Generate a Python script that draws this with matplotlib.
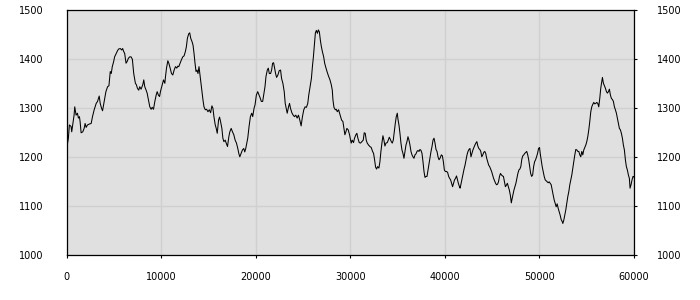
import matplotlib
matplotlib.use("Agg")
import matplotlib.pyplot as plt

# x positions of the traced samples
x_values = [
    0, 177, 284, 461, 532, 638, 780, 851, 993, 1135, 1241, 1348, 1418, 1525, 1702, 1844, 1950, 2057,
    2199, 2411, 2589, 2730, 2908, 3121, 3262, 3440, 3546, 3688, 3794, 3972, 4149, 4326, 4468, 4610,
    4716, 4823, 4965, 5071, 5248, 5390, 5496, 5674, 5816, 5922, 6028, 6135, 6277, 6383, 6525, 6667,
    6809, 6950, 7092, 7270, 7376, 7482, 7624, 7730, 7872, 8050, 8156, 8262, 8404, 8511, 8652, 8794,
    8936, 9043, 9184, 9326, 9468, 9574, 9700, 9825, 9930, 10105, 10246, 10386, 10456, 10561, 10702,
    10807, 10947, 11088, 11228, 11368, 11509, 11649, 11754, 11860, 12000, 12140, 12281, 12421, 12561,
    12667, 12772, 12912, 13018, 13123, 13263, 13368, 13474, 13579, 13684, 13789, 13895, 14000, 14105,
    14211, 14316, 14421, 14526, 14667, 14807, 14947, 15088, 15228, 15368, 15474, 15579, 15719, 15825,
    15930, 16070, 16175, 16281, 16421, 16526, 16632, 16772, 16877, 17018, 17158, 17263, 17404, 17544,
    17684, 17825, 17965, 18105, 18211, 18316, 18456, 18596, 18737, 18842, 18947, 19053, 19158, 19298,
    19439, 19579, 19684, 19825, 19930, 20070, 20211, 20351, 20456, 20596, 20737, 20877, 20982, 21088,
    21228, 21333, 21439, 21579, 21684, 21789, 21895, 22000, 22105, 22211, 22351, 22491, 22632, 22737,
    22877, 23018, 23123, 23228, 23333, 23474, 23579, 23684, 23825, 23965, 24105, 24246, 24386, 24526,
    24667, 24807, 24947, 25088, 25228, 25368, 25509, 25614, 25754, 25895, 26000, 26105, 26211, 26316,
    26421, 26526, 26632, 26737, 26842, 26947, 27053, 27193, 27298, 27439, 27579, 27719, 27860, 28000,
    28105, 28175, 28281, 28421, 28526, 28632, 28772, 28877, 28982, 29088, 29228, 29333, 29439, 29544,
    29649, 29789, 29930, 30106, 30212, 30353, 30459, 30601, 30707, 30813, 30954, 31095, 31237, 31378,
    31484, 31590, 31696, 31802, 31943, 32085, 32226, 32367, 32473, 32580, 32686, 32792, 32898, 33039,
    33145, 33251, 33357, 33463, 33569, 33675, 33781, 33922, 34028, 34134, 34240, 34346, 34452, 34558,
    34664, 34770, 34876, 34982, 35053, 35159, 35265, 35371, 35477, 35583, 35689, 35795, 35901, 36007,
    36113, 36219, 36325, 36431, 36537, 36643, 36749, 36855, 36961, 37067, 37173, 37279, 37385, 37491,
    37597, 37703, 37809, 37915, 38021, 38127, 38233, 38339, 38445, 38551, 38657, 38763, 38869, 38975,
    39081, 39187, 39293, 39399, 39505, 39647, 39753, 39859, 39965, 40071, 40208, 40313, 40417, 40521,
    40625, 40729, 40833, 40938, 41042, 41146, 41250, 41354, 41458, 41563, 41632, 41736, 41840, 41944,
    42049, 42153, 42257, 42361, 42465, 42569, 42674, 42778, 42882, 42986, 43090, 43194, 43299, 43403,
    43507, 43611, 43715, 43819, 43924, 44028, 44132, 44236, 44340, 44444, 44549, 44653, 44757, 44861,
    44965, 45069, 45174, 45278, 45382, 45486, 45590, 45694, 45799, 45903, 46007, 46111, 46215, 46319,
    46424, 46528, 46632, 46736, 46840, 46944, 47049, 47118, 47222, 47326, 47431, 47535, 47639, 47743,
    47847, 47951, 48056, 48160, 48264, 48368, 48472, 48576, 48681, 48785, 48889, 48993, 49097, 49201,
    49306, 49410, 49514, 49618, 49722, 49826, 49931, 50035, 50106, 50211, 50317, 50423, 50528, 50634,
    50739, 50845, 50951, 51056, 51162, 51268, 51373, 51479, 51585, 51690, 51796, 51901, 52007, 52113,
    52218, 52324, 52430, 52500, 52606, 52711, 52817, 52923, 53028, 53134, 53239, 53345, 53451, 53556,
    53662, 53768, 53873, 53979, 54085, 54190, 54296, 54401, 54507, 54613, 54718, 54824, 54930, 55035,
    55141, 55246, 55352, 55458, 55563, 55669, 55775, 55880, 55986, 56092, 56197, 56303, 56408, 56514,
    56620, 56690, 56796, 56901, 57007, 57113, 57218, 57324, 57430, 57535, 57641, 57746, 57852, 57958,
    58063, 58169, 58275, 58380, 58486, 58592, 58697, 58803, 58908, 59014, 59120, 59225, 59331, 59437,
    59542, 59613, 59718, 59824, 59930, 60000,
]

# y values
y_values = [
    1218, 1239, 1266, 1263, 1252, 1266, 1286, 1303, 1286, 1290, 1280, 1283, 1273, 1250, 1252, 1259, 1269, 1261,
    1266, 1268, 1269, 1283, 1297, 1310, 1314, 1325, 1310, 1300, 1295, 1314, 1334, 1344, 1346, 1375,
    1371, 1385, 1395, 1405, 1412, 1418, 1421, 1422, 1419, 1422, 1416, 1412, 1392, 1395, 1402, 1405,
    1405, 1400, 1371, 1351, 1348, 1341, 1337, 1344, 1339, 1348, 1358, 1344, 1337, 1331, 1317, 1303,
    1298, 1302, 1298, 1314, 1327, 1334, 1327, 1324, 1335, 1348, 1358, 1351, 1365, 1382, 1397,
    1392, 1382, 1371, 1368, 1378, 1385, 1382, 1386, 1385, 1392, 1399, 1405, 1407, 1416,
    1426, 1443, 1452, 1454, 1443, 1436, 1429, 1412, 1392, 1375, 1378, 1371, 1385, 1368,
    1351, 1334, 1317, 1303, 1297, 1298, 1293, 1297, 1291, 1305, 1300, 1283, 1266, 1259,
    1249, 1276, 1282, 1273, 1259, 1239, 1232, 1235, 1229, 1222, 1242, 1252, 1259, 1252,
    1246, 1235, 1229, 1218, 1208, 1201, 1208, 1215, 1218, 1211, 1218, 1229, 1239, 1263,
    1283, 1290, 1283, 1300, 1307, 1327, 1334, 1327, 1322, 1314, 1314, 1331, 1344, 1365,
    1378, 1382, 1371, 1371, 1378, 1392, 1393, 1382, 1371, 1363, 1368, 1377, 1378, 1361,
    1351, 1334, 1310, 1300, 1290, 1303, 1310, 1300, 1291, 1286, 1283, 1286, 1280, 1286,
    1276, 1264, 1283, 1297, 1303, 1302, 1310, 1327, 1344, 1361, 1385, 1405, 1429, 1454,
    1459, 1453, 1460, 1456, 1439, 1426, 1416, 1405, 1392, 1382, 1373, 1365, 1358, 1348,
    1337, 1317, 1302, 1297, 1298, 1293, 1297, 1290, 1283, 1276, 1273, 1259, 1246, 1252,
    1259, 1256, 1246, 1229, 1235, 1230, 1239, 1246, 1249, 1239, 1230, 1229, 1232, 1235,
    1250, 1249, 1235, 1229, 1225, 1222, 1220, 1212, 1208, 1195, 1180, 1176, 1181, 1178,
    1191, 1212, 1229, 1244, 1235, 1223, 1229, 1230, 1235, 1241, 1237, 1232, 1229, 1235,
    1252, 1269, 1283, 1290, 1278, 1266, 1249, 1229, 1215, 1208, 1198, 1212, 1225, 1232,
    1242, 1235, 1225, 1212, 1205, 1201, 1198, 1205, 1207, 1212, 1214, 1212, 1216, 1214,
    1208, 1191, 1171, 1159, 1161, 1161, 1174, 1188, 1201, 1212, 1222, 1235, 1239, 1229,
    1216, 1212, 1201, 1195, 1198, 1205, 1203, 1191, 1174, 1171, 1171, 1169, 1161, 1157,
    1154, 1147, 1140, 1147, 1154, 1157, 1162, 1154, 1146, 1140, 1137, 1147, 1157, 1167,
    1176, 1184, 1195, 1205, 1212, 1216, 1218, 1201, 1208, 1215, 1220, 1225, 1229, 1232,
    1223, 1218, 1216, 1212, 1201, 1205, 1210, 1212, 1208, 1198, 1191, 1184, 1181, 1176,
    1171, 1164, 1157, 1152, 1147, 1144, 1145, 1150, 1161, 1167, 1164, 1162, 1161, 1150,
    1140, 1143, 1147, 1140, 1133, 1123, 1107, 1114, 1123, 1133, 1140, 1147, 1157, 1167,
    1174, 1176, 1181, 1196, 1203, 1205, 1208, 1210, 1212, 1205, 1195, 1181, 1167, 1161,
    1164, 1181, 1191, 1195, 1201, 1208, 1218, 1220, 1208, 1195, 1181, 1171, 1161, 1154,
    1152, 1150, 1148, 1150, 1147, 1144, 1133, 1123, 1113, 1106, 1099, 1105, 1096, 1089,
    1082, 1073, 1069, 1065, 1072, 1082, 1093, 1106, 1120, 1130, 1144, 1154, 1164, 1178,
    1191, 1205, 1216, 1215, 1212, 1212, 1205, 1201, 1212, 1205, 1215, 1220, 1225, 1232,
    1242, 1256, 1273, 1293, 1303, 1308, 1312, 1309, 1310, 1312, 1310, 1303, 1320, 1341,
    1354, 1363, 1351, 1346, 1341, 1334, 1331, 1334, 1339, 1327, 1320, 1318, 1314, 1303,
    1297, 1290, 1280, 1269, 1259, 1256, 1249, 1239, 1225, 1215, 1195, 1181, 1174, 1164,
    1157, 1137, 1144, 1154, 1161, 1160,
]

x_ticks = [0, 10000, 20000, 30000, 40000, 50000, 60000]
y_ticks = [1000, 1100, 1200, 1300, 1400, 1500]

plt.rcParams['font.family'] = ['DejaVu Sans']

fig = plt.figure(figsize=(7, 3), dpi=100)
ax = fig.add_axes([66.7 / 700, 1 - 255.3 / 300, (633.7 - 66.7) / 700, (255.3 - 10.3) / 300])
ax.set_facecolor('#e0e0e0')

ax.plot(x_values, y_values, color='black', linewidth=0.75)

ax.set_xlim(0, 60000)
ax.set_ylim(1000, 1500)
ax.set_xticks(x_ticks)
ax.set_yticks(y_ticks)
ax.set_xticklabels([str(t) for t in x_ticks])
ax.set_yticklabels([str(t) for t in y_ticks])

ax.grid(True, color='#d0d0d0', linewidth=1.0)
ax.set_axisbelow(True)

for s in ax.spines.values():
    s.set_color('black')
    s.set_linewidth(0.9)

ax.tick_params(axis='x', direction='out', length=2, width=0.8, pad=10, labelsize=7, colors='black')
ax.tick_params(axis='y', direction='out', length=2, width=0.8, pad=15, labelsize=7,
               left=False, labelleft=True, right=True, labelright=True, colors='black')

fig.savefig('out.png', dpi=100)
